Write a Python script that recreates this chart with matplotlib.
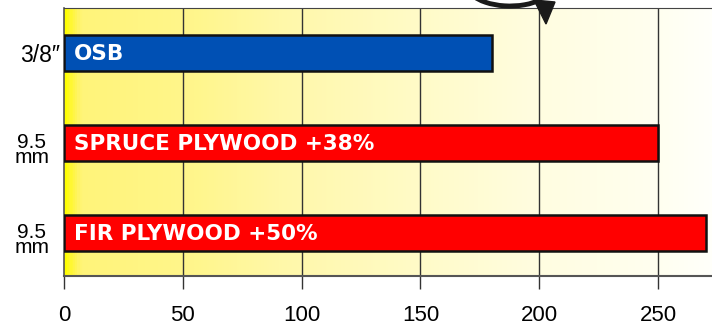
import numpy as np
import matplotlib
matplotlib.use("Agg")
import matplotlib.pyplot as plt
import matplotlib.transforms as mtransforms
from matplotlib.colors import LinearSegmentedColormap
from matplotlib.patches import Arc, Polygon

# Data
categories = ["OSB", "SPRUCE PLYWOOD +38%", "FIR PLYWOOD +50%"]
row_labels = ["3/8\u2033", "9.5\nmm", "9.5\nmm"]
values = [180, 250, 270]
colors = ["#0050B4", "#FF0000", "#FF0000"]
xticks = [0, 50, 100, 150, 200, 250]

plt.rcParams['font.family'] = ['Liberation Sans', 'DejaVu Sans']

fig = plt.figure(figsize=(7.12, 3.28), dpi=100)
ax = fig.add_axes([64/712, 52/328, 1 - 64/712, 268/328])
ax.set_xlim(0, 272.7)
ax.set_ylim(2.478, -0.5)

# gradient background
cmap = LinearSegmentedColormap.from_list("bg", [
    (0.0, "#FFFF00"), (0.01, "#FFF640"), (0.025, "#FFF47A"),
    (0.2, "#FFF68C"), (0.33, "#FFF8A8"), (0.55, "#FFFBC8"),
    (0.73, "#FFFDE0"), (0.92, "#FFFFF0"), (1.0, "#FFFFFA")])
grad = np.linspace(0, 1, 600).reshape(1, -1)
ax.imshow(grad, cmap=cmap, aspect='auto', extent=[0, 1, 0, 1],
          transform=ax.transAxes, zorder=0)

for x in xticks[1:]:
    ax.axvline(x, color="#333333", lw=1.0, zorder=1)

y = np.arange(len(values))
ax.barh(y, values, height=0.41, color=colors, edgecolor="#111111",
        linewidth=1.8, zorder=3)

for yi, lab in zip(y, categories):
    ax.text(4, yi + 0.01, lab, color="white", fontsize=15.5, fontweight="bold",
            family="DejaVu Sans", va="center", ha="left", zorder=4)

# row labels (figure x, data y)
ax.set_yticks([])
trans = mtransforms.blended_transform_factory(fig.transFigure, ax.transData)
for yi, lab in zip(y, row_labels):
    if "\n" in lab:
        ax.text(32/712, yi + 0.078, lab, fontsize=15, ha="center", va="center",
                linespacing=0.76, multialignment="center", transform=trans)
    else:
        ax.text(60/712, yi + 0.1, lab, fontsize=16.5, ha="right", va="baseline",
                transform=trans)

ax.set_xticks(xticks)
ax.set_xticklabels([str(t) for t in xticks], fontsize=16)
ax.tick_params(axis='x', length=9, width=1, color="#333333", pad=12, direction='out')

ax.spines["right"].set_visible(False)
ax.spines["top"].set_color("#444444")
ax.spines["bottom"].set_color("#555555")
ax.spines["bottom"].set_linewidth(1.5)
ax.spines["left"].set_color("#555555")
ax.spines["left"].set_linewidth(1.2)

# decorative arrow at top (figure pixel coordinates)
arc = Arc((510, 343), 86, 42, theta1=195, theta2=335,
          transform=None, color="#1a1a1a", lw=3.5, zorder=10)
fig.patches.append(arc)
head = Polygon([(534, 328), (555, 326), (546, 304)], closed=True,
               transform=None, color="#1a1a1a", zorder=10)
fig.patches.append(head)

fig.savefig("out.png", dpi=100)
